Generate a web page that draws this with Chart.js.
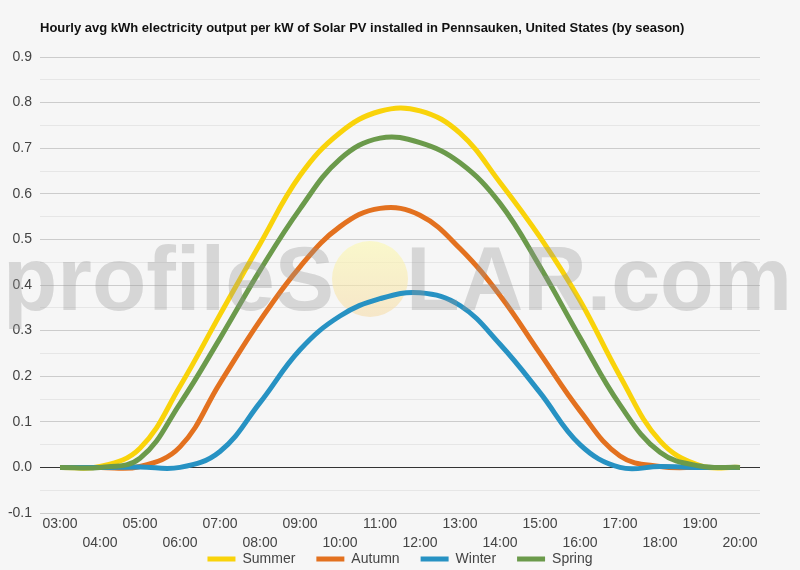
<!DOCTYPE html>
<html>
<head>
<meta charset="utf-8">
<script src="https://cdn.jsdelivr.net/npm/chart.js@4.4.1/dist/chart.umd.min.js"></script>
<style>
  html, body { margin: 0; padding: 0; background: #f6f6f6; }
  #wrap { width: 800px; height: 570px; }
</style>
</head>
<body>
<div id="wrap"><canvas id="c" width="800" height="570"></canvas></div>
<script>
const TITLE = 'Hourly avg kWh electricity output per kW of Solar PV installed in Pennsauken, United States (by season)';
const hours = ['03:00','04:00','05:00','06:00','07:00','08:00','09:00','10:00','11:00','12:00','13:00','14:00','15:00','16:00','17:00','18:00','19:00','20:00'];
const seasonNames = ['Summer','Autumn','Winter','Spring'];
const summer = [0.0, 0.002, 0.042, 0.178, 0.335, 0.49, 0.64, 0.734, 0.781, 0.782, 0.733, 0.625, 0.505, 0.366, 0.20, 0.058, 0.004, 0.0];
const autumn = [0.0, 0.0, 0.002, 0.045, 0.185, 0.322, 0.44, 0.528, 0.568, 0.553, 0.48, 0.377, 0.25, 0.124, 0.025, 0.002, 0.0, 0.0];
const winter = [0.0, 0.0, 0.001, 0.0, 0.035, 0.142, 0.258, 0.332, 0.37, 0.383, 0.355, 0.27, 0.164, 0.05, 0.0, 0.002, 0.0, 0.0];
const spring = [0.0, 0.0, 0.02, 0.14, 0.283, 0.432, 0.567, 0.676, 0.722, 0.712, 0.668, 0.579, 0.44, 0.285, 0.137, 0.033, 0.003, 0.0];
const seasonColors = ['#f9d30a', '#e3711f', '#2792c3', '#6b9a4b'];
const WATERMARK_LEFT = 'profileS';
const WATERMARK_RIGHT = 'LAR.com';

const FONT = "'Liberation Sans', Arial, sans-serif";

const bgPlugin = {
  id: 'bg',
  beforeDraw(chart) {
    const ctx = chart.ctx;
    ctx.save();
    ctx.fillStyle = '#f6f6f6';
    ctx.fillRect(0, 0, chart.width, chart.height);
    ctx.fillStyle = '#111';
    ctx.font = 'bold 13px ' + FONT;
    ctx.textAlign = 'left';
    ctx.textBaseline = 'middle';
    ctx.fillText(TITLE, 40, 28);
    ctx.restore();
  },
  afterLayout(chart) {
    // let the two-row x labels use the space that the legend's padding leaves free
    const x = chart.scales.x;
    if (x) x.bottom = x.top + 40;
  }
};

const watermarkPlugin = {
  id: 'watermark',
  beforeDatasetsDraw(chart) {
    const ctx = chart.ctx;
    ctx.save();
    const g = ctx.createLinearGradient(0, 241, 0, 317);
    g.addColorStop(0, 'rgba(252,249,175,0.6)');
    g.addColorStop(1, 'rgba(246,220,170,0.6)');
    ctx.fillStyle = g;
    ctx.beginPath();
    ctx.arc(370, 279, 38, 0, Math.PI * 2);
    ctx.fill();
    ctx.restore();
  },
  afterDatasetsDraw(chart) {
    const ctx = chart.ctx;
    ctx.save();
    ctx.font = 'bold 90px ' + FONT;
    ctx.textBaseline = 'alphabetic';
    ctx.fillStyle = 'rgba(150,150,150,0.33)';
    ctx.textAlign = 'right';
    ctx.fillText(WATERMARK_LEFT, 334, 310, 331);
    ctx.textAlign = 'left';
    ctx.fillText(WATERMARK_RIGHT, 406, 310, 386);
    ctx.restore();
  }
};

const seriesValues = [summer, autumn, winter, spring];
const datasets = seasonNames.map((name, i) => ({
  label: name,
  data: seriesValues[i],
  borderColor: seasonColors[i],
  backgroundColor: seasonColors[i],
  borderWidth: 5,
  pointRadius: 0,
  pointHoverRadius: 0,
  tension: 0.4,
  fill: false,
  order: 3 - i
}));

function isTenth(v) { return Math.abs(Math.round(v * 10) - v * 10) < 1e-6; }

new Chart(document.getElementById('c'), {
  type: 'line',
  data: { labels: hours, datasets },
  plugins: [bgPlugin, watermarkPlugin],
  options: {
    responsive: false,
    animation: false,
    devicePixelRatio: 1,
    layout: { padding: { top: 57, left: 0, right: 0, bottom: -6 } },
    plugins: {
      tooltip: { enabled: false },
      title: { display: false },
      legend: {
        position: 'bottom',
        align: 'center',
        labels: {
          boxWidth: 28,
          boxHeight: 5,
          padding: 21,
          color: '#444',
          font: { size: 14, family: FONT },
          sort: (a, b) => a.datasetIndex - b.datasetIndex,
          generateLabels: (chart) => Chart.defaults.plugins.legend.labels.generateLabels(chart)
            .map(l => Object.assign({}, l, { lineWidth: 0, fillStyle: l.strokeStyle }))
        }
      }
    },
    scales: {
      x: {
        type: 'category',
        offset: true,
        grid: { display: false, drawTicks: false },
        border: { display: false },
        ticks: {
          autoSkip: false,
          maxRotation: 0,
          minRotation: 0,
          padding: 2,
          color: '#444',
          font: { size: 14, family: FONT, lineHeight: 1.36 },
          callback: function (val, idx) {
            const lab = this.getLabelForValue(val);
            return idx % 2 === 0 ? lab : ['', lab];
          }
        },
        afterFit: (s) => { s.height = 18; }
      },
      y: {
        min: -0.1,
        max: 0.9,
        grid: {
          drawTicks: false,
          lineWidth: 1,
          color: (ctx) => {
            const v = ctx.tick ? ctx.tick.value : 1;
            if (Math.abs(v) < 1e-9) return '#333';
            return isTenth(v) ? '#cccccc' : '#e6e6e6';
          }
        },
        border: { display: false },
        ticks: {
          stepSize: 0.05,
          padding: 8,
          color: '#444',
          font: { size: 14, family: FONT },
          callback: (v) => isTenth(v) ? Number(v).toFixed(1) : ''
        },
        afterFit: (s) => { s.width = 40; }
      },
      y2: {
        position: 'right',
        display: true,
        grid: { display: false, drawTicks: false },
        border: { display: false },
        ticks: { display: false },
        afterFit: (s) => { s.width = 40; }
      }
    }
  }
});
</script>
</body>
</html>
